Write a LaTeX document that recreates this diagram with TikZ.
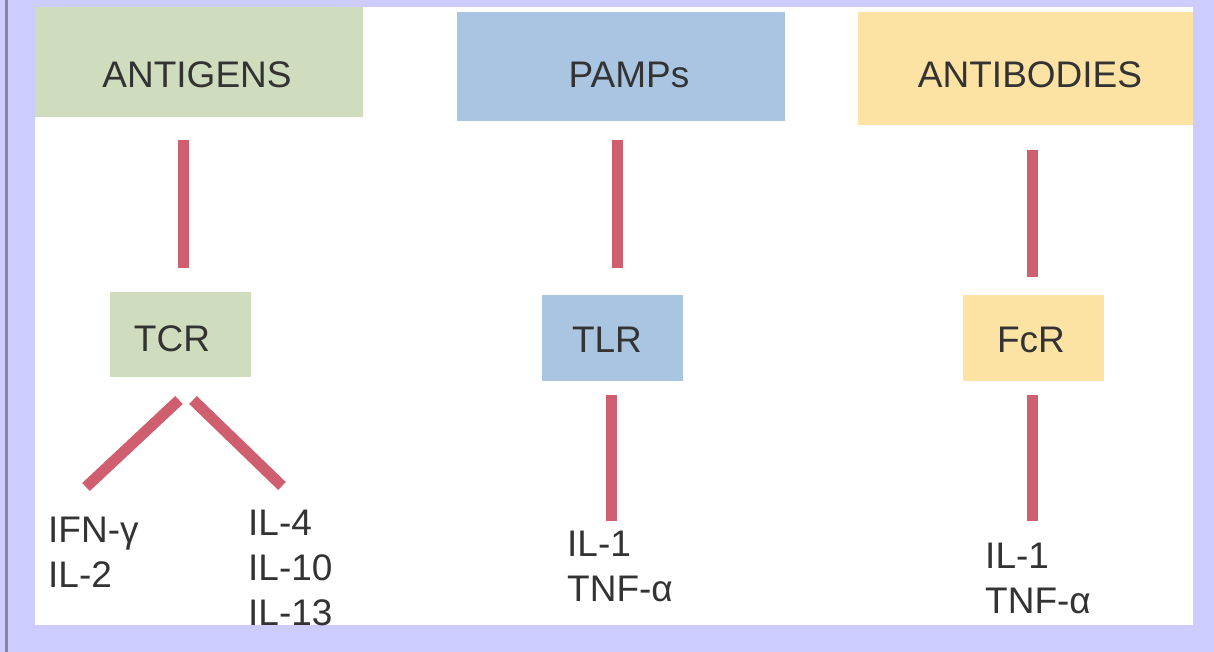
\documentclass[tikz,border=0pt]{standalone}
\usepackage{fontspec}
\setmainfont{Liberation Sans}
\definecolor{lav}{HTML}{CCCCFF}
\definecolor{edge}{HTML}{8585A8}
\definecolor{gbox}{HTML}{CFDCBE}
\definecolor{bbox}{HTML}{A9C5E2}
\definecolor{ybox}{HTML}{FCE3A3}
\definecolor{link}{HTML}{CF5F6E}
\definecolor{ink}{HTML}{333333}
\tikzset{
  box/.style={rectangle, draw=none, inner sep=0pt, anchor=north west},
  lbl/.style={font=\fontsize{37}{45}\selectfont, text=ink, inner sep=0pt},
  cyto/.style={font=\fontsize{37}{45}\selectfont, text=ink, inner sep=0pt, align=left, anchor=base west},
  conn/.style={draw=link, line width=11pt, line cap=butt}
}
\begin{document}
\begin{tikzpicture}[x=1pt,y=-1pt]
\useasboundingbox (0,0) rectangle (1214,652);
\fill[lav] (0,0) rectangle (1214,652);
\fill[edge] (5,0) rectangle (8,652);
\fill[white] (35,7) rectangle (1193,625);
\begin{scope}
\clip (35,7) rectangle (1193,625);
% top boxes
\node[box, fill=gbox, minimum width=328pt, minimum height=110pt] (antigens) at (35,7) {};
\node[box, fill=bbox, minimum width=328pt, minimum height=109pt] (pamps) at (457,12) {};
\node[box, fill=ybox, minimum width=335pt, minimum height=113pt] (antibodies) at (858,12) {};
\node[lbl, anchor=base] at (197,88) {ANTIGENS};
\node[lbl, anchor=base] at (629,88) {PAMPs};
\node[lbl, anchor=base] at (1030,88) {ANTIBODIES};
% receptor boxes
\node[box, fill=gbox, minimum width=141pt, minimum height=85pt] (tcr) at (110,292) {};
\node[box, fill=bbox, minimum width=141pt, minimum height=86pt] (tlr) at (542,295) {};
\node[box, fill=ybox, minimum width=141pt, minimum height=86pt] (fcr) at (963,295) {};
\node[lbl, anchor=base] at (172,351) {TCR};
\node[lbl, anchor=base] at (607,352) {TLR};
\node[lbl, anchor=base] at (1031,352) {FcR};
% connector ends
\coordinate (a1) at (183,140); \coordinate (a2) at (183,268);
\coordinate (p1) at (617,140); \coordinate (p2) at (617,268);
\coordinate (b1) at (1032,150); \coordinate (b2) at (1032,277);
\coordinate (t0) at (179,400); \coordinate (t1) at (86,487);
\coordinate (t2) at (193,400); \coordinate (t3) at (282,486);
\coordinate (l1) at (611,395); \coordinate (l2) at (611,521);
\coordinate (f1) at (1032,395); \coordinate (f2) at (1032,521);
\draw[conn] (a1) -- (a2);
\draw[conn] (p1) -- (p2);
\draw[conn] (b1) -- (b2);
\draw[conn] (t0) -- (t1);
\draw[conn] (t2) -- (t3);
\draw[conn] (l1) -- (l2);
\draw[conn] (f1) -- (f2);
% cytokines (base = baseline of last line)
\node[cyto] (th1) at (48,587) {IFN-γ\\IL-2};
\node[cyto] (th2) at (248,625) {IL-4\\IL-10\\IL-13};
\node[cyto] (tlrout) at (567,601) {IL-1\\TNF-α};
\node[cyto] (fcrout) at (985,613) {IL-1\\TNF-α};
\end{scope}
\end{tikzpicture}
\end{document}
